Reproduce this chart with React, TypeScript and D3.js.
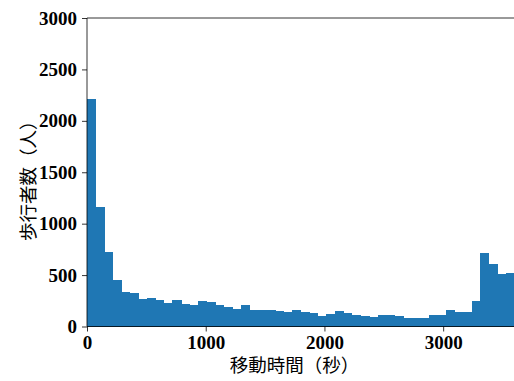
import React, { useEffect, useRef } from "react";
import * as d3 from "d3";

// histogram counts, 50 bins of 72 s from 0 to 3600 s
const binWidth = 72;
const counts = [
  2209, 1159, 727, 454, 340, 324, 265, 274, 256, 233,
  256, 216, 207, 248, 238, 206, 188, 172, 207, 164,
  158, 156, 149, 141, 159, 143, 131, 105, 124, 149,
  131, 109, 99, 95, 112, 112, 99, 86, 86, 86,
  109, 109, 163, 141, 141, 248, 712, 611, 513, 520
];
const xTicks = [0, 1000, 2000, 3000];
const yTicks = [0, 500, 1000, 1500, 2000, 2500, 3000];
const xLabel = "移動時間（秒）";
const yLabel = "歩行者数（人）";

const W = 514;
const H = 381;
const margin = { left: 87, right: 0, top: 18, bottom: 54.5 };

const App = () => {
  const ref = useRef<SVGSVGElement>(null);

  useEffect(() => {
    const svg = d3.select(ref.current);
    svg.selectAll("*").remove();

    const x = d3.scaleLinear().domain([0, 3600]).range([margin.left, W + 0.4]);
    const y = d3.scaleLinear().domain([0, 3000]).range([H - margin.bottom, margin.top]);

    svg.append("g")
      .attr("shape-rendering", "crispEdges")
      .selectAll("rect")
      .data(counts)
      .join("rect")
        .attr("x", (d, i) => x(i * binWidth))
        .attr("width", (d, i) => x((i + 1) * binWidth) - x(i * binWidth) + 0.5)
        .attr("y", d => y(d))
        .attr("height", d => y(0) - y(d))
        .attr("fill", "#1f77b4");

    const tickFont = (g: any) => g.selectAll("text")
      .attr("font-family", "'Liberation Serif', 'Times New Roman', serif")
      .attr("font-weight", "bold")
      .attr("font-size", 19)
      .attr("fill", "#000");

    svg.append("g")
      .attr("transform", `translate(0,${y(0)})`)
      .call(d3.axisBottom(x).tickValues(xTicks).tickSize(5).tickPadding(4).tickFormat(d3.format("d")))
      .call(g => g.select(".domain").remove())
      .call(g => g.selectAll("line").attr("stroke", "#000").attr("stroke-width", 0.8))
      .call(tickFont);

    svg.append("g")
      .attr("transform", `translate(${margin.left},0)`)
      .call(d3.axisLeft(y).tickValues(yTicks).tickSize(5).tickPadding(5).tickFormat(d3.format("d")))
      .call(g => g.select(".domain").remove())
      .call(g => g.selectAll("line").attr("stroke", "#000").attr("stroke-width", 0.8))
      .call(tickFont);

    // spines
    svg.append("line")
      .attr("x1", margin.left).attr("x2", margin.left)
      .attr("y1", y(0)).attr("y2", y(3000))
      .attr("stroke", "#000").attr("stroke-width", 0.8);
    svg.append("line")
      .attr("x1", margin.left).attr("x2", W)
      .attr("y1", y(0)).attr("y2", y(0))
      .attr("stroke", "#000").attr("stroke-width", 0.8);
    svg.append("line")
      .attr("x1", margin.left).attr("x2", W)
      .attr("y1", y(3000)).attr("y2", y(3000))
      .attr("stroke", "#000").attr("stroke-width", 0.8);

    svg.append("text")
      .attr("x", (margin.left + W) / 2 - 6)
      .attr("y", 372)
      .attr("text-anchor", "middle")
      .attr("font-family", "'Noto Sans CJK JP', sans-serif")
      .attr("font-size", 18.5)
      .attr("fill", "#000")
      .text(xLabel);

    svg.append("text")
      .attr("transform", `translate(35,${(y(0) + y(3000)) / 2 + 4}) rotate(-90)`)
      .attr("text-anchor", "middle")
      .attr("font-family", "'Noto Sans CJK JP', sans-serif")
      .attr("font-size", 18.5)
      .attr("fill", "#000")
      .text(yLabel);
  }, []);

  return (
    <svg ref={ref} width={W} height={H}
      style={{ position: "absolute", left: 0, top: 0, background: "#fff" }} />
  );
};

export default App;
